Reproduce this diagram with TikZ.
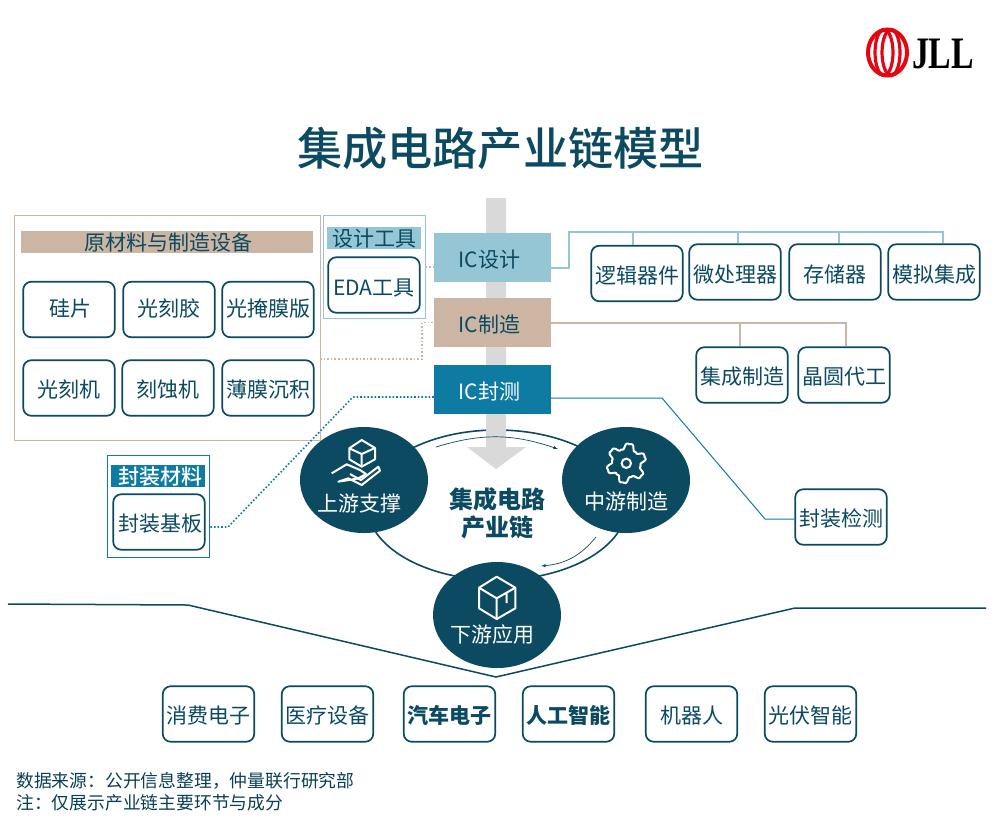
\documentclass[tikz,border=0pt]{standalone}
\usepackage{fontspec}
\setmainfont{Noto Sans CJK SC}
\newfontfamily\logofont{Liberation Serif}
\newfontfamily\midfont{Noto Sans CJK SC Medium}
\usetikzlibrary{arrows,shapes.geometric}
\definecolor{deep}{HTML}{0B4A60}
\definecolor{sky}{HTML}{94C6D6}
\definecolor{sand}{HTML}{CDB5A4}
\definecolor{sea}{HTML}{0E7BA3}
\definecolor{logored}{HTML}{E30613}
\begin{document}
\begin{tikzpicture}
			[x=1pt,y=-1pt,
			every node/.style={inner sep=0,text=deep,text height=18.5pt,text depth=2.5pt,font=\fontsize{21}{24}\selectfont},
			item/.style={draw=deep,line width=1.7pt,rounded corners=8pt,fill=white,minimum width=91.5pt,minimum height=55.5pt,text height=21.5pt},
			stage/.style={minimum width=117pt,minimum height=49pt,text height=21.5pt,execute at end node={\hspace{6pt}}},
			band/.style={minimum height=22pt},
			frame/.style={draw,line width=1pt,minimum width=#1},
			hub/.style={ellipse,fill=deep,minimum width=128pt,minimum height=106pt},
			hublabel/.style={text=white},
			note/.style={anchor=west,text=deep!85!black,text height=15.7pt,text depth=2.1pt,font=\fontsize{17.8}{20}\selectfont},
			heavy/.style={text height=21pt,text depth=3pt,font=\bfseries\fontsize{24}{28}\selectfont},
			icon/.style={draw=white,line width=2pt,line join=round},
			ring/.style={draw=logored,line width=3.2pt},
			skyline/.style={draw=sky,line width=2pt},
			sandline/.style={draw=sand,line width=2pt},
			edge/.style={->,> = latex',draw=deep,line width=.7pt},
			dots/.style={line width=1.6pt,dotted}]
			\useasboundingbox (0,0) rectangle (1000,839);
			
			% logo
			\draw[ring,line width=4pt] (887.5,52.5) ellipse (19.5 and 23);
			\draw[ring] (884,52.5) ellipse (9 and 23);
			\draw[ring] (891,52.5) ellipse (9 and 23);
			\node (brand) at (943,53) [xscale=.75,text=black,text height=30pt,text depth=0pt,font=\logofont\bfseries\fontsize{45}{45}\selectfont] {JLL};
			
			\node (headline) at (500.5,148) [text height=40pt,text depth=5pt,font=\midfont\fontsize{45.2}{50}\selectfont] {集成电路产业链模型};
			
			% cycle and central arrow
			\draw[deep,line width=1.6pt] (497,505) ellipse (130 and 75);
			\fill[black!15] (486,198) -- (506,198) -- (506,447) -- (526,447) -- (496,469) -- (467,447) -- (486,447) -- cycle;
			
			\node (rawframe) at (167,327.5) [frame=306pt,draw=sand,minimum height=225pt] {};
			\node (toolframe) at (425.5,266.5) [frame=102pt,draw=sky,anchor=east,minimum height=103pt] {};
			\node (packframe) at (158.5,506) [frame=102pt,draw=sea,minimum height=102pt] {};
			
			\node (rawband) at (167,242) [band,fill=sand,minimum width=292pt] {\hspace*{2pt}原材料与制造设备};
			\node (toolband) at (374,238) [band,fill=sky,minimum width=94pt] {设计工具};
			\node (packband) at (158,476) [band,fill=sea,minimum width=94pt,text=white,font=\midfont\fontsize{21}{24}\selectfont] {\hspace*{5pt}封装材料};
			
			\node (silicon) at (69,309.5) [item,text height=16.5pt] {\hspace*{3pt}硅片};
			\node (resist) at (169,309.5) [item,text height=16.5pt] {光刻胶};
			\node (mask) at (268,309.5) [item,text height=16.5pt] {光掩膜版};
			\node (litho) at (69,388) [item] {光刻机};
			\node (etcher) at (168,388) [item] {刻蚀机};
			\node (film) at (268,388) [item] {薄膜沉积};
			\node (eda) at (374,285) [item,text height=24pt] {EDA工具};
			\node (substrate) at (159,522) [item] {\hspace*{3pt}封装基板};
			
			\node (icdesign) at (492.5,257.5) [stage,fill=sky] {IC设计};
			\node (icmake) at (492.5,322.5) [stage,fill=sand] {IC制造};
			\node (ictest) at (492.5,389.5) [stage,fill=sea,text=white] {IC封测};
			
			\node (logic) at (637,273.5) [item] {逻辑器件};
			\node (cpu) at (735,272) [item,text height=24pt] {微处理器};
			\node (memory) at (835,272) [item,text height=24pt] {存储器};
			\node (analog) at (934,272) [item,text height=24pt] {模拟集成};
			\node (idm) at (742,375) [item] {集成制造};
			\node (foundry) at (844,375) [item] {晶圆代工};
			\node (testing) at (841,517) [item] {封装检测};
			
			% trees to the right
			\coordinate (designbus) at (569,232);
			\coordinate (designend) at (943,232);
			\draw[skyline] ([yshift=-10.5pt]icdesign.east) -| (designbus) -- (designend) -- (designend |- analog.north);
			\draw[skyline] (designbus -| 633,0) -- (633,245);
			\draw[skyline] (designbus -| 738,0) -- (cpu.north -| 738,0);
			\draw[skyline] (designbus -| 839,0) -- (memory.north -| 839,0);
			\draw[sandline] (icmake.east) -| ([xshift=2pt]foundry.north);
			\draw[sandline] (icmake.east -| 740,0) -- ([xshift=-2pt]idm.north);
			\coordinate (testknee) at (662,398);
			\coordinate (testfoot) at (765,519);
			\draw[sea,line width=1pt] ([yshift=-8.5pt]ictest.east) -- (testknee) -- (testfoot) -- (testing.west |- testfoot);
			
			% dotted links to the left
			\coordinate (rawknee) at (422,359);
			\draw[sand,dots] (320,359) -- (rawknee) |- (icmake.west);
			\draw[sand,dots] (toolframe.east |- 0,267) -- (icdesign.west |- 0,267);
			\coordinate (packknee) at (353,397);
			\coordinate (packfoot) at (228,527);
			\draw[sea,dots] ([yshift=-7.5pt]ictest.west) -- (packknee) -- (packfoot) -- (packframe.east |- packfoot);
			
			\node (upstream) at (364,480) [hub] {};
			\node (midstream) at (626,480) [hub] {};
			\node (downstream) at (497,615) [hub] {};
			\node (uplabel) at (359.5,503) [hublabel] {上游支撑};
			\node (midlabel) at (626,501.5) [hublabel] {中游制造};
			\node (downlabel) at (492.5,634) [hublabel] {下游应用};
			\node (centerone) at (497,499) [heavy] {集成电路};
			\node (centertwo) at (497,527) [heavy] {产业链};
			
			\coordinate (flowa) at (436,447);
			\coordinate (flowb) at (558,449);
			\coordinate (flowc) at (596,537);
			\coordinate (flowd) at (541,566);
			\draw[edge] (flowa) to [bend left=18] (flowb);
			\draw[edge] (flowc) to [bend left=23] (flowd);
			
			% icons
			\draw[icon] (361.7,440) -- (375,448) -- (375,459.3) -- (361.7,466.7) -- (349.3,459.3) -- (349.3,448.3) -- cycle;
			\draw[icon] (349.3,448.3) -- (361.7,454) -- (375,448) (361.7,454) -- (361.7,466.7);
			\draw[icon] (331.7,473.3) -- (346.7,464.3) -- (360,470) -- (366,474) -- (358,478.5) -- (350,474) (358,478.5) -- (361,480) -- (378.3,466.7) -- (380,470.7) -- (361.7,485) -- (348.3,478.3) -- (338.3,481.7) -- cycle;
			\draw[icon,shift={(626.3,463.3)}] plot [domain=0:360,samples=121,smooth] (\x:{17+3.2*(cos(6*(\x-40))-.25*cos(18*(\x-40)))}) -- cycle;
			\draw[icon] (626.3,463.3) circle (4.7);
			\draw[icon] (496.7,576.7) -- (515.3,587.7) -- (515.3,608.3) -- (496.7,619) -- (479,608.3) -- (479,587.7) -- cycle;
			\draw[icon] (479,587.7) -- (496.7,598.3) -- (515.3,587.7) (496.7,598.3) -- (496.7,619) (506.7,593) -- (506.7,603);
			
			% fan above the applications
			\coordinate (fana) at (8,604);
			\coordinate (fanb) at (188,605);
			\coordinate (fanc) at (496,677);
			\coordinate (fand) at (795,608);
			\coordinate (fane) at (986,608);
			\draw[deep,line width=1.5pt] (fana) -- (fanb) -- (fanc) -- (fand) -- (fane);
			
			\node (consumer) at (208.5,714) [item] {消费电子};
			\node (medical) at (327.5,714) [item] {医疗设备};
			\node (auto) at (449.5,714) [item,font=\bfseries\fontsize{21}{24}\selectfont] {汽车电子};
			\node (ai) at (568.5,714) [item,font=\bfseries\fontsize{21}{24}\selectfont] {人工智能};
			\node (robot) at (691.5,714) [item] {机器人};
			\node (solar) at (810.5,714) [item] {光伏智能};
			
			\node (source) at (16,781) [note] {数据来源：公开信息整理，仲量联行研究部};
			\node (remark) at (16,803) [note] {注：仅展示产业链主要环节与成分};
			\end{tikzpicture}
\end{document}
